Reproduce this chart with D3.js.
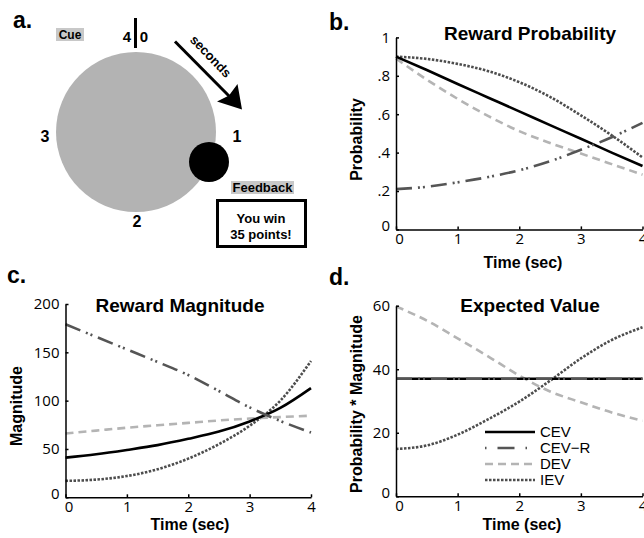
<!DOCTYPE html>
<html>
<head>
<meta charset="utf-8">
<script src="https://cdn.jsdelivr.net/npm/d3@7"></script>
<style>
  body { margin: 0; background: #fff; }
  text { font-family: "Liberation Sans", Arial, sans-serif; }
  .tick text { font-family: "Open Sans", sans-serif; font-size: 15px; fill: #000; }
</style>
</head>
<body>
<script>
// time points (sec)
const times = [0, 0.5, 1, 1.5, 2, 2.5, 3, 3.5, 4];

// b. reward probability
const probCEV  = [0.90, 0.83, 0.757, 0.686, 0.615, 0.543, 0.472, 0.40, 0.33];
const probCEVR = [0.21, 0.222, 0.245, 0.273, 0.308, 0.355, 0.415, 0.48, 0.555];
const probDEV  = [0.89, 0.78, 0.68, 0.59, 0.512, 0.45, 0.395, 0.34, 0.285];
const probIEV  = [0.90, 0.888, 0.862, 0.824, 0.767, 0.69, 0.594, 0.49, 0.375];

// c. reward magnitude
const magCEV  = [41, 44.5, 49, 54, 60.5, 68, 78.5, 92.5, 113];
const magCEVR = [179, 166, 153, 140, 126.5, 110, 93, 79, 67];
const magDEV  = [66, 69, 72, 74.5, 77, 79.5, 81.5, 83, 84.5];
const magIEV  = [17, 18.3, 22, 29, 40, 55, 74, 100, 141];

// d. expected value
const evCEV  = [37, 37, 37, 37, 37, 37, 37, 37, 37];
const evCEVR = [37, 37, 37, 37, 37, 37, 37, 37, 37];
const evDEV  = [59.8, 55.3, 49.7, 44, 38, 33, 29.6, 26.4, 23.8];
const evIEV  = [14.9, 16, 19.4, 24.3, 29.8, 36.4, 43.4, 49.2, 53.2];

const seriesNames = ["CEV", "CEV\u2212R", "DEV", "IEV"];
const timeTicks = [0, 1, 2, 3, 4];

const width = 644, height = 538;

const styles = {
    "CEV":      { color: "#000", dash: null },
    "CEV\u2212R": { color: "#555", dash: "16,6,2,3,2,6" },
    "DEV":      { color: "#b4b4b4", dash: "8,5" },
    "IEV":      { color: "#4d4d4d", dash: "2.5,1.5" }
};

const svg = d3.select("body").append("svg")
    .attr("width", width)
    .attr("height", height);

svg.append("rect").attr("width", width).attr("height", height).attr("fill", "#fff");

// ---------- panel a: task schematic ----------
const a = svg.append("g");

a.append("circle").attr("cx", 136).attr("cy", 132).attr("r", 80).attr("fill", "#b3b3b3");
a.append("circle").attr("cx", 209).attr("cy", 162).attr("r", 20).attr("fill", "#000");

// clock labels
const clockLabels = [
    { t: "4", x: 127, y: 42, s: 15 },
    { t: "0", x: 144, y: 42, s: 15 },
    { t: "1", x: 237, y: 142, s: 16 },
    { t: "2", x: 137, y: 227, s: 16 },
    { t: "3", x: 45, y: 142, s: 16 }
];
a.selectAll("text.clock")
    .data(clockLabels)
    .join("text")
    .attr("class", "clock")
    .attr("x", d => d.x).attr("y", d => d.y)
    .attr("text-anchor", "middle")
    .attr("font-weight", "bold")
    .attr("font-size", d => d.s)
    .text(d => d.t);
a.append("line").attr("x1", 135.5).attr("x2", 135.5).attr("y1", 18).attr("y2", 48)
    .attr("stroke", "#000").attr("stroke-width", 3);

// arrow
a.append("line").attr("x1", 175).attr("y1", 41.5).attr("x2", 230).attr("y2", 97)
    .attr("stroke", "#000").attr("stroke-width", 3);
a.append("path").attr("d", "M242,109.5 L237.5,84 L229,95.5 L217,101.5 Z").attr("fill", "#000");
a.append("text")
    .attr("transform", "translate(210,57) rotate(46)")
    .attr("text-anchor", "middle")
    .attr("dominant-baseline", "middle")
    .attr("font-weight", "bold").attr("font-size", 13)
    .text("seconds");

// cue / feedback labels
a.append("rect").attr("x", 56).attr("y", 28).attr("width", 28).attr("height", 13).attr("fill", "#c8c8c8");
a.append("text").attr("x", 70).attr("y", 39).attr("text-anchor", "middle")
    .attr("font-weight", "bold").attr("font-size", 12).text("Cue");
a.append("rect").attr("x", 231).attr("y", 181).attr("width", 63).attr("height", 13).attr("fill", "#c8c8c8");
a.append("text").attr("x", 262.5).attr("y", 192).attr("text-anchor", "middle")
    .attr("font-weight", "bold").attr("font-size", 13).text("Feedback");
a.append("rect").attr("x", 217.5).attr("y", 200.5).attr("width", 88).attr("height", 46)
    .attr("fill", "#fff").attr("stroke", "#000").attr("stroke-width", 3);
a.append("text").attr("x", 261).attr("y", 223).attr("text-anchor", "middle")
    .attr("font-weight", "bold").attr("font-size", 13).text("You win");
a.append("text").attr("x", 261).attr("y", 239).attr("text-anchor", "middle")
    .attr("font-weight", "bold").attr("font-size", 13).text("35 points!");

// ---------- panel letters ----------
const letters = [
    { t: "a.", x: 13, y: 28 },
    { t: "b.", x: 329, y: 30 },
    { t: "c.", x: 7, y: 283 },
    { t: "d.", x: 329, y: 285 }
];
svg.selectAll("text.letter")
    .data(letters)
    .join("text")
    .attr("class", "letter")
    .attr("x", d => d.x).attr("y", d => d.y)
    .attr("font-weight", "bold").attr("font-size", 23)
    .text(d => d.t);

// ---------- line panels ----------
function drawPanel(opts) {
    const x = d3.scaleLinear().domain([0, 4]).range(opts.xr);
    const y = d3.scaleLinear().domain(opts.yd).range(opts.yr);
    const g = svg.append("g");

    const line = d3.line()
        .x((d, i) => x(times[i]))
        .y(d => y(d))
        .curve(d3.curveMonotoneX);

    // draw order: IEV, DEV, CEV, CEV-R on top of CEV
    [3, 2, 0, 1].forEach(k => {
        const name = seriesNames[k];
        g.append("path")
            .datum(opts.series[k])
            .attr("d", line)
            .attr("fill", "none")
            .attr("stroke", styles[name].color)
            .attr("stroke-width", 2.6)
            .attr("stroke-dasharray", styles[name].dash);
    });

    const xAxis = g.append("g")
        .attr("transform", `translate(0,${opts.yr[0]})`)
        .call(d3.axisBottom(x).tickValues(timeTicks).tickFormat(d3.format("d"))
            .tickSizeInner(-3).tickSizeOuter(0).tickPadding(4));
    const yAxis = g.append("g")
        .attr("transform", `translate(${opts.xr[0]},0)`)
        .call(d3.axisLeft(y).tickValues(opts.yticks).tickFormat(opts.yfmt)
            .tickSizeInner(-3).tickSizeOuter(0).tickPadding(6));
    [xAxis, yAxis].forEach(ax => {
        ax.select(".domain").attr("stroke", "#000").attr("stroke-width", 1.5);
        ax.selectAll(".tick line").attr("stroke", "#000").attr("stroke-width", 1.5);
    });
    // zero labels sit like the original
    xAxis.selectAll(".tick text").filter(d => d === 0).attr("dx", 3);
    yAxis.selectAll(".tick text").filter(d => d === 0).attr("dy", "0.1em");

    g.append("text")
        .attr("x", opts.title[1]).attr("y", opts.title[2])
        .attr("text-anchor", "middle")
        .attr("font-weight", "bold").attr("font-size", 19)
        .text(opts.title[0]);
    g.append("text")
        .attr("x", opts.xlab[0]).attr("y", opts.xlab[1])
        .attr("text-anchor", "middle")
        .attr("font-weight", "bold").attr("font-size", 16)
        .text("Time (sec)");
    g.append("text")
        .attr("transform", `translate(${opts.ylab[1]},${opts.ylab[2]}) rotate(-90)`)
        .attr("text-anchor", "middle")
        .attr("font-weight", "bold").attr("font-size", 16)
        .text(opts.ylab[0]);
    return { g, x, y };
}

drawPanel({
    xr: [396, 642.5], yr: [229.4, 37.4], yd: [0, 1],
    yticks: [0, 0.2, 0.4, 0.6, 0.8, 1],
    yfmt: d => d === 0 ? "0" : d === 1 ? "1" : String(d).replace("0.", "."),
    series: [probCEV, probCEVR, probDEV, probIEV],
    title: ["Reward Probability", 530, 40],
    xlab: [523, 268],
    ylab: ["Probability", 362, 139.5]
});

drawPanel({
    xr: [65.5, 311], yr: [497.3, 304], yd: [0, 200],
    yticks: [0, 50, 100, 150, 200],
    yfmt: d3.format("d"),
    series: [magCEV, magCEVR, magDEV, magIEV],
    title: ["Reward Magnitude", 180, 312],
    xlab: [190, 530],
    ylab: ["Magnitude", 21.5, 406]
});

const pd = drawPanel({
    xr: [396, 642.5], yr: [496.3, 305.7], yd: [0, 60],
    yticks: [0, 20, 40, 60],
    yfmt: d3.format("d"),
    series: [evCEV, evCEVR, evDEV, evIEV],
    title: ["Expected Value", 530, 312],
    xlab: [522, 530],
    ylab: ["Probability * Magnitude", 362, 404]
});

// legend
const legend = pd.g.append("g").attr("transform", "translate(485,432)");
seriesNames.forEach((name, i) => {
    const row = legend.append("g").attr("transform", `translate(0,${i * 16})`);
    row.append("line").attr("x1", 0).attr("x2", 50)
        .attr("stroke", styles[name].color)
        .attr("stroke-width", 2.6)
        .attr("stroke-dasharray", name === "CEV\u2212R" ? "1.5,11,17,11,1.5,20" : styles[name].dash);
    row.append("text").attr("x", 55).attr("dy", "0.36em")
        .attr("font-family", "'Open Sans', sans-serif").attr("font-size", 15)
        .text(name);
});
</script>
</body>
</html>
